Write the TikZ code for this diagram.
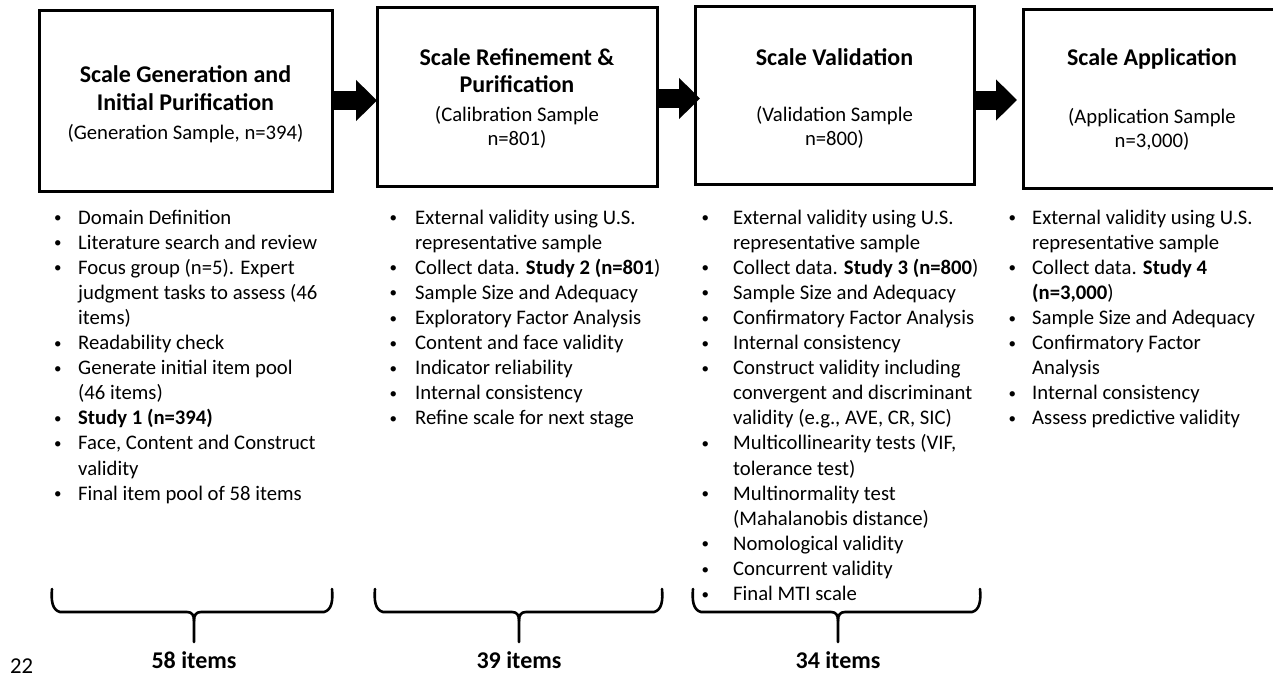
\documentclass[tikz,border=0pt]{standalone}
\usepackage{fontspec}
\setmainfont{Carlito}
\usetikzlibrary{arrows.meta,calc}
\newlength{\indw}
\newcommand{\itm}{\makebox[\indw][l]{\hspace{1.5pt}\raisebox{1.4pt}{\fontsize{15}{15}\selectfont\textbullet}}}
\newcommand{\indt}{\hspace*{\indw}}
\newcommand{\bodyf}{\fontsize{20.7}{25.1}\selectfont}
\newcommand{\ttlf}{\fontsize{24}{28}\selectfont\bfseries}
\begin{document}
\begin{tikzpicture}[x=1pt,y=-1pt,
  box/.style={draw, line width=3pt, inner sep=0pt, outer sep=0pt},
  blockarrow/.style={line width=19pt, -{Triangle[length=21pt,width=40pt]}},
  brace/.style={line width=2.6pt, line cap=round, line join=round},
  col/.style={anchor=base west, inner sep=0pt, font=\bodyf},
  ttl/.style={anchor=base, inner sep=0pt},
  lbl/.style={anchor=base, inner sep=0pt, font=\ttlf}]
\useasboundingbox (0,0) rectangle (1273,672);

% boxes
\node[box, minimum width=293pt, minimum height=181pt] (box1) at (185.5,100.5) {};
\node[box, minimum width=280pt, minimum height=179pt] (box2) at (517,96.5) {};
\node[box, minimum width=279pt, minimum height=178pt] (box3) at (834.5,95) {};
\node[box, minimum width=258pt, minimum height=179pt] (box4) at (1152,98.5) {};

% titles
\node[ttl] (t1) at (185.5,82) {\parbox[t]{290pt}{\centering\fontsize{20.7}{24}\selectfont
{\ttlf Scale Generation and\\[4pt] Initial Purification}\\[5pt] (Generation Sample, n=394)}};
\node[ttl] (t2) at (517,65) {\parbox[t]{276pt}{\centering\fontsize{20.7}{24}\selectfont
{\ttlf Scale Refinement \&\\[3pt] Purification}\\[5pt] (Calibration Sample\\ n=801)}};
\node[ttl] (t3) at (834.5,65) {\parbox[t]{276pt}{\centering\fontsize{20.7}{24}\selectfont
{\ttlf Scale Validation}\\[32pt] (Validation Sample\\ n=800)}};
\node[ttl] (t4) at (1152,65) {\parbox[t]{256pt}{\centering\fontsize{20.7}{24}\selectfont
{\ttlf Scale Application}\\[34pt] (Application Sample\\ n=3,000)}};

% arrows
\draw[blockarrow] (box1.east) -- (box1.east -| box2.west);
\draw[blockarrow] ($(box2.east)+(0,2)$) -- ($(box2.east -| box3.west)+(5,2)$);
\draw[blockarrow] ($(box3.east)+(0,5)$) -- ($(box3.east -| box4.west)+(-6,5)$);

% bullet columns
\node[col] (c1) at (52.5,224) {\setlength{\indw}{25.5pt}\parbox[t]{330pt}{\raggedright
\itm Domain Definition\\
\itm Literature search and review\\
\itm Focus group (n=5). Expert\\
\indt judgment tasks to assess (46\\
\indt items)\\
\itm Readability check\\
\itm Generate initial item pool\\
\indt (46 items)\\
\itm \textbf{Study 1 (n=394)}\\
\itm Face, Content and Construct\\
\indt validity\\
\itm Final item pool of 58 items}};

\node[col] (c2) at (388,224) {\setlength{\indw}{27pt}\parbox[t]{330pt}{\raggedright
\itm External validity using U.S.\\
\indt representative sample\\
\itm Collect data. \textbf{Study 2 (n=801})\\
\itm Sample Size and Adequacy\\
\itm Exploratory Factor Analysis\\
\itm Content and face validity\\
\itm Indicator reliability\\
\itm Internal consistency\\
\itm Refine scale for next stage}};

\node[col] (c3) at (700,224) {\setlength{\indw}{33pt}\parbox[t]{330pt}{\raggedright
\itm External validity using U.S.\\
\indt representative sample\\
\itm Collect data. \textbf{Study 3 (n=800})\\
\itm Sample Size and Adequacy\\
\itm Confirmatory Factor Analysis\\
\itm Internal consistency\\
\itm Construct validity including\\
\indt convergent and discriminant\\
\indt validity (e.g., AVE, CR, SIC)\\
\itm Multicollinearity tests (VIF,\\
\indt tolerance test)\\
\itm Multinormality test\\
\indt (Mahalanobis distance)\\
\itm Nomological validity\\
\itm Concurrent validity\\
\itm Final MTI scale}};

\node[col] (c4) at (1007,224) {\setlength{\indw}{25pt}\parbox[t]{330pt}{\raggedright
\itm External validity using U.S.\\
\indt representative sample\\
\itm Collect data. \textbf{Study 4}\\
\indt \textbf{(n=3,000})\\
\itm Sample Size and Adequacy\\
\itm Confirmatory Factor\\
\indt Analysis\\
\itm Internal consistency\\
\itm Assess predictive validity}};

% braces
\foreach \xl/\xc/\xr in {52/194/332, 375/519/662, 693/838/980} {
  \draw[brace] (\xl,589) .. controls (\xl-1,600) and (\xl,610) .. (\xl+8,612) -- (\xc-7,612)
     .. controls (\xc-2,612) and (\xc,615) .. (\xc,621) -- (\xc,642);
  \draw[brace] (\xr,589) .. controls (\xr+1,600) and (\xr,610) .. (\xr-8,612) -- (\xc+7,612)
     .. controls (\xc+2,612) and (\xc,615) .. (\xc,621);
}

% labels
\node[lbl] (n1) at (194,668) {58 items};
\node[lbl] (n2) at (519,668) {39 items};
\node[lbl] (n3) at (838,668) {34 items};
\node[anchor=base west, inner sep=0pt, font=\fontsize{22.7}{26}\selectfont] (pg) at (10,673) {22};
\end{tikzpicture}
\end{document}
